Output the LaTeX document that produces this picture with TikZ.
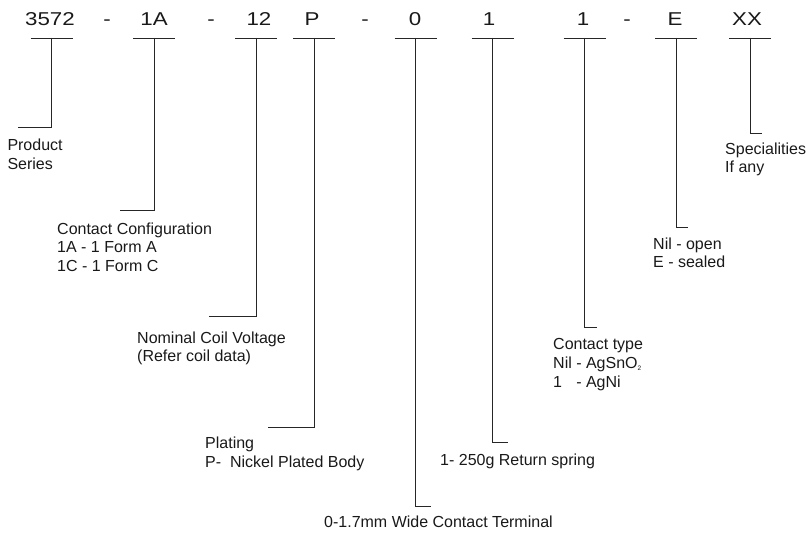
\documentclass[tikz,border=0pt]{standalone}
\usepackage{fontspec}
\setmainfont{Liberation Sans}
\newfontfamily\codefont[FakeStretch=1.2]{Liberation Sans}
\usetikzlibrary{calc}

\begin{document}
\begin{tikzpicture}[x=1pt,y=-1pt,
    code/.style={anchor=base,inner sep=0pt,font=\codefont\fontsize{18.6}{20}\selectfont,text=black!90},
    lbl/.style={anchor=north west,inner sep=0pt,align=left,font=\fontsize{16}{18.7}\selectfont,text=black!90},
    lead/.style={line width=0.9pt,black!85}]
  \useasboundingbox (0,0) rectangle (806,534);

  % part number
  \node[code] (c1) at (50,26) {3572};
  \node[code] (d1) at (107,26) {-};
  \node[code] (c2) at (154,26) {1A};
  \node[code] (d2) at (211,26) {-};
  \node[code] (c3) at (259,26) {12};
  \node[code] (c4) at (312,26) {P};
  \node[code] (d3) at (365,26) {-};
  \node[code] (c5) at (415,26) {0};
  \node[code] (c6) at (489,26) {1};
  \node[code] (c7) at (583,26) {1};
  \node[code] (d4) at (627,26) {-};
  \node[code] (c8) at (675,26) {E};
  \node[code] (c9) at (747,26) {XX};

  % tops of the leaders
  \coordinate (t1) at (51.7,38);
  \coordinate (t2) at (154.3,38);
  \coordinate (t3) at (256.3,38);
  \coordinate (t4) at (314,38);
  \coordinate (t5) at (415.5,38);
  \coordinate (t6) at (492.5,38);
  \coordinate (t7) at (584.5,38);
  \coordinate (t8) at (676,38);
  \coordinate (t9) at (750,38);

  % free ends
  \coordinate (e1) at (18,127);
  \coordinate (e2) at (120,210);
  \coordinate (e3) at (209,316);
  \coordinate (e4) at (268,427);
  \coordinate (e5) at (431,506);
  \coordinate (e6) at (508,442);
  \coordinate (e7) at (597,327);
  \coordinate (e8) at (688,227);
  \coordinate (e9) at (762,133);

  % labels
  \node[lbl] (l1) at (7.3,139) {Product\\Series};
  \node[lbl] (l2) at (57,222.5) {Contact Configuration\\1A - 1 Form A\\1C - 1 Form C};
  \node[lbl] (l3) at (137,331.4) {Nominal Coil Voltage\\(Refer coil data)};
  \node[lbl] (l4) at (205,436.6) {Plating\\P-\ \ Nickel Plated Body};
  \node[lbl] (l5) at (324,515.4) {0-1.7mm Wide Contact Terminal};
  \node[lbl] (l6) at (440,453.4) {1- 250g Return spring};
  \node[lbl] (l7) at (553,338.4) {Contact type\\Nil - AgSnO\raisebox{-2pt}{\fontsize{6.5}{7}\selectfont 2}\\\makebox[1.166em][l]{1} - AgNi};
  \node[lbl] (l8) at (653,237.4) {Nil - open\\E - sealed};
  \node[lbl] (l9) at (725,142.4) {Specialities\\If any};

  \foreach \i in {1,...,9}{
    \draw[lead] ($(t\i)+(-21,0)$) -- ($(t\i)+(21,0)$);
    \draw[lead] (t\i) |- (e\i);
  }
\end{tikzpicture}
\end{document}
